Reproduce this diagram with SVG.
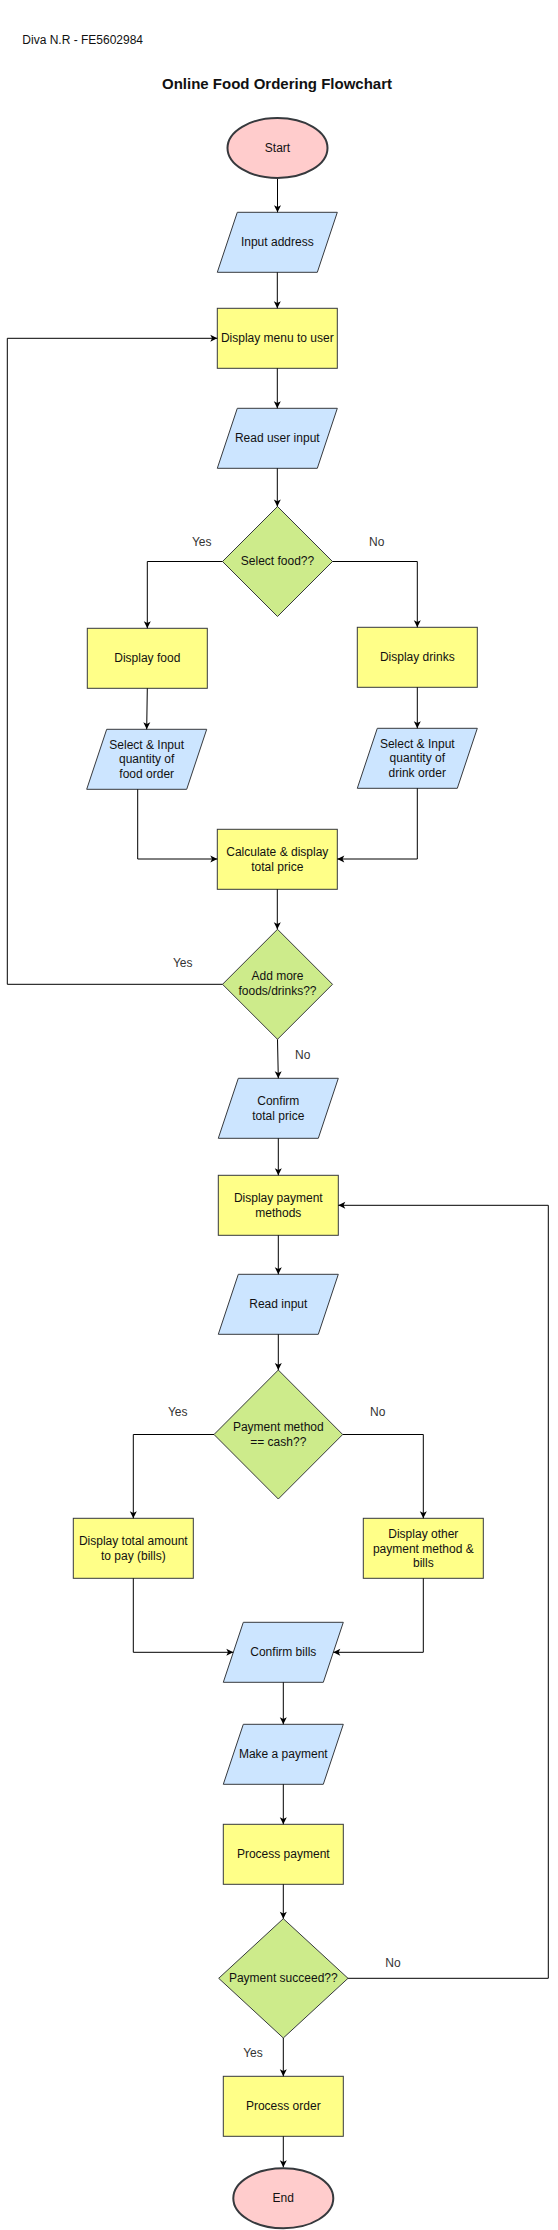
<svg xmlns="http://www.w3.org/2000/svg" width="558" height="2230" viewBox="0 0 558 2230">
<style>
  text { font-family: "Liberation Sans", Arial, Helvetica, sans-serif; font-size: 12px; fill: #111; text-anchor: middle; }
  .title { font-size: 15px; font-weight: bold; }
  .plain { text-anchor: start; }
  .lbl { fill: #333; }
  .term { fill: #ffcccc; stroke: #36393d; stroke-width: 2; }
  .proc { fill: #ffff88; stroke: #36393d; stroke-width: 1; }
  .io { fill: #cce5ff; stroke: #36393d; stroke-width: 1; }
  .dec { fill: #cdeb8b; stroke: #36393d; stroke-width: 1; }
  .edge { fill: none; stroke: #000; stroke-width: 1; marker-end: url(#arr); }
</style>
<defs>
  <marker id="arr" markerUnits="userSpaceOnUse" markerWidth="10" markerHeight="10" viewBox="0 0 10 10" refX="8" refY="4" orient="auto">
    <path d="M1,0.5 L8,4 L1,7.5 L2.75,4 Z" fill="#000"/>
  </marker>
</defs>
<rect width="558" height="2230" fill="#fff"/>
<text class="plain" x="22.3" y="44.3">Diva N.R - FE5602984</text>
<text class="title" x="277" y="89">Online Food Ordering Flowchart</text>

<g id="start"><ellipse class="term" cx="277.5" cy="148" rx="50" ry="30"/><text x="277.5" y="152">Start</text></g>
<g id="input-address"><polygon class="io" points="237.3,212.3 337.3,212.3 317.3,272.3 217.3,272.3"/><text x="277.3" y="246">Input address</text></g>
<g id="display-menu"><rect class="proc" x="217.3" y="308.3" width="120" height="60"/><text x="277.3" y="342">Display menu to user</text></g>
<g id="read-user-input"><polygon class="io" points="237.3,408.3 337.3,408.3 317.3,468.3 217.3,468.3"/><text x="277.3" y="442">Read user input</text></g>
<g id="select-food"><polygon class="dec" points="277.5,506.5 332.5,561.5 277.5,616.5 222.5,561.5"/><text x="277.5" y="565">Select food??</text></g>
<g id="display-food"><rect class="proc" x="87.3" y="628.3" width="120" height="60"/><text x="147.3" y="661.6">Display food</text></g>
<g id="display-drinks"><rect class="proc" x="357.3" y="627.3" width="120" height="60"/><text x="417.3" y="661">Display drinks</text></g>
<g id="select-food-qty"><polygon class="io" points="106.7,729.3 206.7,729.3 186.7,789.3 86.7,789.3"/><text x="146.7" y="748.6">Select &amp; Input</text><text x="146.7" y="763">quantity of</text><text x="146.7" y="777.6">food order</text></g>
<g id="select-drink-qty"><polygon class="io" points="377.3,728.3 477.3,728.3 457.3,788.3 357.3,788.3"/><text x="417.3" y="747.6">Select &amp; Input</text><text x="417.3" y="762">quantity of</text><text x="417.3" y="776.6">drink order</text></g>
<g id="calculate"><rect class="proc" x="217.3" y="829.3" width="120" height="60"/><text x="277.3" y="856">Calculate &amp; display</text><text x="277.3" y="871">total price</text></g>
<g id="add-more"><polygon class="dec" points="277.5,929.3 332.5,984.3 277.5,1039.3 222.5,984.3"/><text x="277.5" y="979.6">Add more</text><text x="277.5" y="994.6">foods/drinks??</text></g>
<g id="confirm-total"><polygon class="io" points="238.3,1078.3 338.3,1078.3 318.3,1138.3 218.3,1138.3"/><text x="278.3" y="1105">Confirm</text><text x="278.3" y="1120">total price</text></g>
<g id="display-payment"><rect class="proc" x="218.3" y="1175.3" width="120" height="60"/><text x="278.3" y="1202">Display payment</text><text x="278.3" y="1217">methods</text></g>
<g id="read-input"><polygon class="io" points="238.3,1274.3 338.3,1274.3 318.3,1334.3 218.3,1334.3"/><text x="278.3" y="1307.6">Read input</text></g>
<g id="payment-method"><polygon class="dec" points="278.3,1370 342.7,1434.5 278.3,1499 214,1434.5"/><text x="278.3" y="1431">Payment method</text><text x="278.3" y="1446">== cash??</text></g>
<g id="display-total-amount"><rect class="proc" x="73.3" y="1518.3" width="120" height="60"/><text x="133.3" y="1545">Display total amount</text><text x="133.3" y="1560">to pay (bills)</text></g>
<g id="display-other"><rect class="proc" x="363.3" y="1518.3" width="120" height="60"/><text x="423.3" y="1538">Display other</text><text x="423.3" y="1552.5">payment method &amp;</text><text x="423.3" y="1567">bills</text></g>
<g id="confirm-bills"><polygon class="io" points="243.3,1622.3 343.3,1622.3 323.3,1682.3 223.3,1682.3"/><text x="283.3" y="1656">Confirm bills</text></g>
<g id="make-payment"><polygon class="io" points="243.3,1724.3 343.3,1724.3 323.3,1784.3 223.3,1784.3"/><text x="283.3" y="1757.6">Make a payment</text></g>
<g id="process-payment"><rect class="proc" x="223.3" y="1824.3" width="120" height="60"/><text x="283.3" y="1857.6">Process payment</text></g>
<g id="payment-succeed"><polygon class="dec" points="283.3,1918.7 348,1978.3 283.3,2038 218.7,1978.3"/><text x="283.3" y="1981.6">Payment succeed??</text></g>
<g id="process-order"><rect class="proc" x="223.3" y="2076.3" width="120" height="60"/><text x="283.3" y="2110">Process order</text></g>
<g id="end"><ellipse class="term" cx="283.3" cy="2198.3" rx="50" ry="30"/><text x="283.3" y="2202">End</text></g>

<g id="connectors">
  <path class="edge" d="M277.5,179 V212.3"/>
  <path class="edge" d="M277.3,272.3 V308.3"/>
  <path class="edge" d="M277.3,368.3 V408.3"/>
  <path class="edge" d="M277.3,468.3 V506.5"/>
  <path class="edge" d="M222.5,561.5 H147.3 V628.3"/>
  <path class="edge" d="M332.5,561.5 H417.3 V627.3"/>
  <path class="edge" d="M147.3,688.3 L146.7,729.3"/>
  <path class="edge" d="M417.3,687.3 V728.3"/>
  <path class="edge" d="M137.7,789.3 V859 H217.3"/>
  <path class="edge" d="M417.3,788.3 V859 H337.3"/>
  <path class="edge" d="M277.3,889.3 V929.3"/>
  <path class="edge" d="M222.5,984.3 H7.3 V338.3 H217.3"/>
  <path class="edge" d="M277.5,1039.3 L278.3,1078.3"/>
  <path class="edge" d="M278.3,1138.3 V1175.3"/>
  <path class="edge" d="M278.3,1235.3 V1274.3"/>
  <path class="edge" d="M278.3,1334.3 V1370"/>
  <path class="edge" d="M214,1434.5 H133.3 V1518.3"/>
  <path class="edge" d="M342.7,1434.5 H423.3 V1518.3"/>
  <path class="edge" d="M133.3,1578.3 V1652.3 H233.3"/>
  <path class="edge" d="M423.3,1578.3 V1652.3 H333.3"/>
  <path class="edge" d="M283.3,1682.3 V1724.3"/>
  <path class="edge" d="M283.3,1784.3 V1824.3"/>
  <path class="edge" d="M283.3,1884.3 V1918.7"/>
  <path class="edge" d="M348,1978.3 H548.3 V1205.3 H338.3"/>
  <path class="edge" d="M283.3,2038 V2076.3"/>
  <path class="edge" d="M283.3,2136.3 V2167.3"/>
  <text class="lbl" x="201.7" y="546">Yes</text>
  <text class="lbl" x="376.7" y="546">No</text>
  <text class="lbl" x="182.7" y="967">Yes</text>
  <text class="lbl" x="302.7" y="1059">No</text>
  <text class="lbl" x="177.7" y="1416">Yes</text>
  <text class="lbl" x="377.7" y="1416">No</text>
  <text class="lbl" x="393" y="1967">No</text>
  <text class="lbl" x="253" y="2057">Yes</text>
</g>
</svg>
